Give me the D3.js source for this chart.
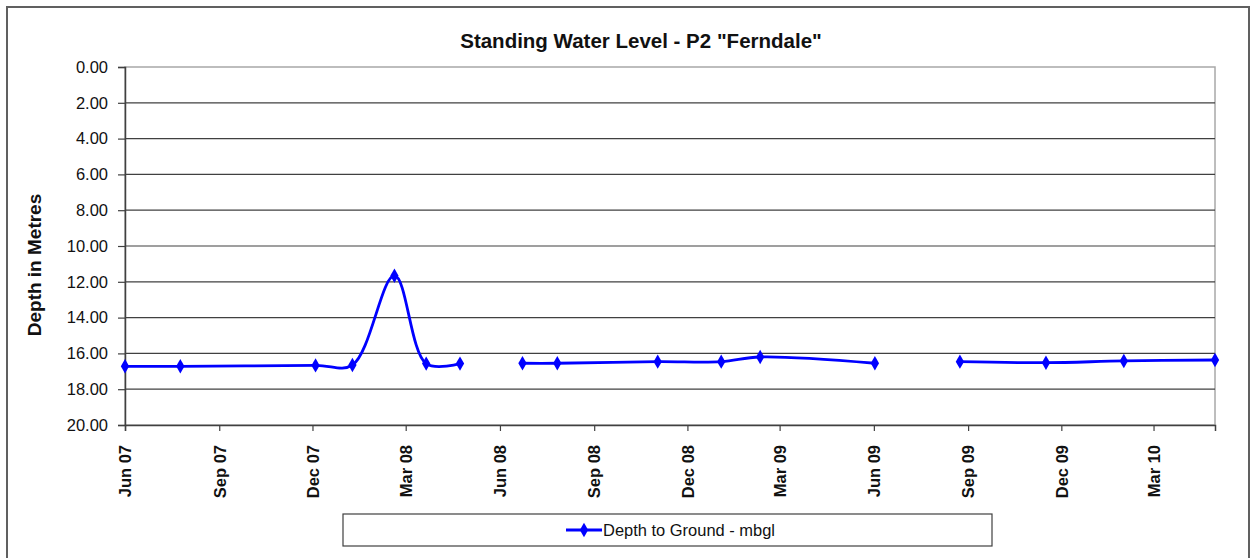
<!DOCTYPE html>
<html>
<head>
<meta charset="utf-8">
<script src="https://cdn.jsdelivr.net/npm/d3@7"></script>
<style>
  html, body { margin: 0; padding: 0; background: #fff; }
  svg { display: block; }
  text { font-family: "Liberation Sans", Arial, sans-serif; }
</style>
</head>
<body>
<svg id="chart" width="1252" height="558"></svg>
<script>
// ---- data ----
const dates = ["2007-06-01","2007-07-25","2007-12-04","2008-01-09","2008-02-19","2008-03-21","2008-04-23",
               "2008-05-20",
               "2008-06-23","2008-07-27","2008-11-02","2009-01-03","2009-02-10","2009-06-02",
               "2009-07-15",
               "2009-08-24","2009-11-16","2010-01-31","2010-04-30"];
const depths = [16.72,16.72,16.67,16.65,11.66,16.57,16.57,
                null,
                16.55,16.55,16.46,16.46,16.20,16.55,
                null,
                16.46,16.52,16.42,16.37];
const tickDates = ["2007-06-01","2007-09-01","2007-12-01","2008-03-01","2008-06-01","2008-09-01",
                   "2008-12-01","2009-03-01","2009-06-01","2009-09-01","2009-12-01","2010-03-01"];
const tickLabels = ["Jun 07","Sep 07","Dec 07","Mar 08","Jun 08","Sep 08",
                    "Dec 08","Mar 09","Jun 09","Sep 09","Dec 09","Mar 10"];
const yTicks = [0,2,4,6,8,10,12,14,16,18,20];
const seriesName = "Depth to Ground - mbgl";
const title = 'Standing Water Level - P2 "Ferndale"';
const yTitle = "Depth in Metres";

// ---- layout ----
const parse = d3.timeParse("%Y-%m-%d");
const svg = d3.select("#chart");
const L = 125, R = 1215, T = 67, B = 425;
const x = d3.scaleTime().domain([parse("2007-06-01"), parse("2010-04-30")]).range([L, R]);
const y = d3.scaleLinear().domain([0, 20]).range([T, B]);
const blue = "#0000ff";
const FONT = "'Liberation Sans', Arial, sans-serif";

// outer border
svg.append("rect").attr("x", 7).attr("y", 7).attr("width", 1242).attr("height", 570)
  .attr("fill", "#fff").attr("stroke", "#606060").attr("stroke-width", 2);

// plot area border (light)
svg.append("rect").attr("x", L).attr("y", T).attr("width", R - L).attr("height", B - T)
  .attr("fill", "none").attr("stroke", "#a8a8a8").attr("stroke-width", 1.5);

// gridlines
svg.append("g").selectAll("line").data(yTicks.filter(d => d > 0 && d < 20)).join("line")
  .attr("x1", L).attr("x2", R).attr("y1", d => y(d)).attr("y2", d => y(d))
  .attr("stroke", "#404040").attr("stroke-width", 1.2);

// y axis
const yAxis = d3.axisLeft(y).tickValues(yTicks).tickFormat(d3.format(".2f")).tickSize(7).tickPadding(10);
const gy = svg.append("g").attr("transform", `translate(${L},0)`).call(yAxis);
gy.select(".domain").attr("stroke", "#404040").attr("stroke-width", 1.5);
gy.selectAll(".tick line").attr("stroke", "#404040").attr("stroke-width", 1.2);
gy.selectAll(".tick text").attr("font-size", 16.5).attr("fill", "#111").attr("font-family", FONT);

// x axis
const xAxis = d3.axisBottom(x).tickValues(tickDates.map(parse))
  .tickFormat((d, i) => tickLabels[i]).tickSize(6).tickPadding(0);
const gx = svg.append("g").attr("transform", `translate(0,${B})`).call(xAxis);
gx.select(".domain").attr("stroke", "#404040").attr("stroke-width", 1.5);
gx.selectAll(".tick line").attr("stroke", "#404040").attr("stroke-width", 1.2);
gx.selectAll(".tick text")
  .attr("font-size", 16.5).attr("font-weight", "bold").attr("fill", "#111")
  .attr("font-family", FONT)
  .attr("text-anchor", "end").attr("dy", "0.35em")
  .attr("transform", "translate(0,20) rotate(-90)")
  .attr("x", 0).attr("y", 0);

// line
const pts = dates.map((d, i) => ({ date: parse(d), v: depths[i] }));
const line = d3.line().defined(d => d.v != null)
  .x(d => x(d.date)).y(d => y(d.v)).curve(d3.curveCatmullRom.alpha(0.5));
svg.append("path").datum(pts).attr("d", line)
  .attr("fill", "none").attr("stroke", blue).attr("stroke-width", 2.8);

// markers
const diamond = d3.symbol().type(d3.symbolDiamond).size(60);
svg.append("g").selectAll("path").data(pts.filter(d => d.v != null)).join("path")
  .attr("d", diamond).attr("transform", d => `translate(${x(d.date)},${y(d.v)})`)
  .attr("fill", blue);

// title
svg.append("text").attr("x", 641).attr("y", 48).attr("text-anchor", "middle")
  .attr("font-size", 20.5).attr("font-weight", "bold").attr("fill", "#111").text(title);

// y title
svg.append("text").attr("transform", "translate(41,265) rotate(-90)").attr("text-anchor", "middle")
  .attr("font-size", 19).attr("font-weight", "bold").attr("fill", "#111").text(yTitle);

// legend
svg.append("rect").attr("x", 343).attr("y", 514).attr("width", 649).attr("height", 32)
  .attr("fill", "#fff").attr("stroke", "#404040").attr("stroke-width", 1.2);
svg.append("line").attr("x1", 566).attr("x2", 602).attr("y1", 530).attr("y2", 530)
  .attr("stroke", blue).attr("stroke-width", 2.8);
svg.append("path").attr("d", diamond).attr("transform", "translate(584,530)").attr("fill", blue);
svg.append("text").attr("x", 603).attr("y", 536).attr("font-size", 16).attr("fill", "#111")
  .attr("textLength", 172).attr("lengthAdjust", "spacingAndGlyphs").text(seriesName);
</script>
</body>
</html>
